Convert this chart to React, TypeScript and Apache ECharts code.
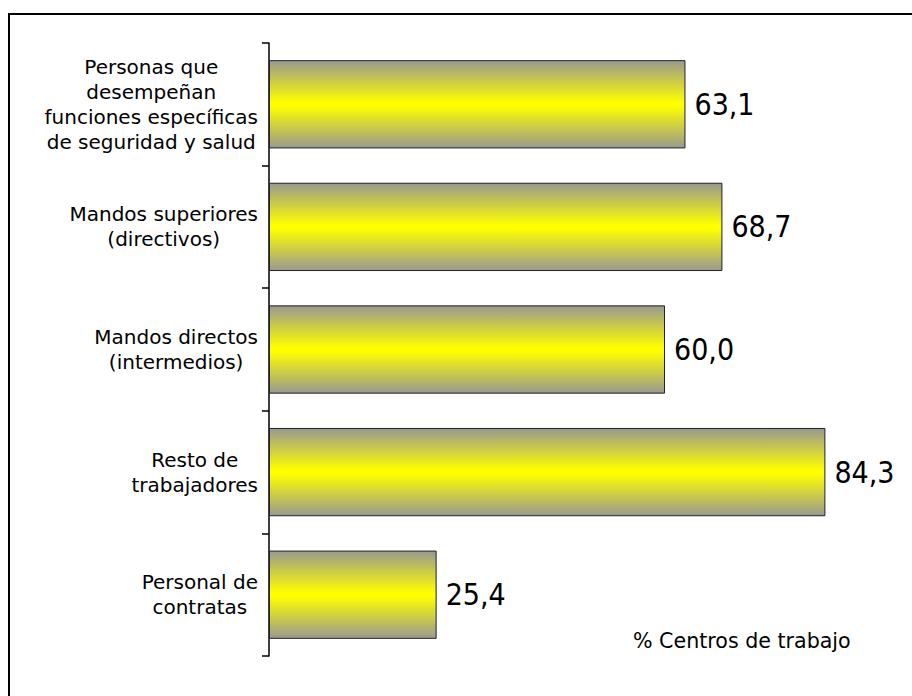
import React, { useEffect, useRef } from "react";
import * as echarts from "echarts";

const categories: string[] = [
  "Personas que\ndesempeñan\nfunciones específicas\nde seguridad y salud",
  "Mandos superiores\n(directivos)",
  "Mandos directos\n(intermedios)",
  "Resto de\ntrabajadores",
  "Personal de\ncontratas",
];
const values: number[] = [63.1, 68.7, 60.0, 84.3, 25.4];
const unitNote = "% Centros de trabajo";

export default function App() {
  const ref = useRef<HTMLDivElement>(null);
  useEffect(() => {
    if (!ref.current) return;
    const chart = echarts.init(ref.current, null, { renderer: "svg" });
    const font = "'DejaVu Sans', Verdana, sans-serif";
    chart.setOption({
      animation: false,
      backgroundColor: "#ffffff",
      grid: { left: 269, top: 43, width: 594, height: 613, containLabel: false },
      xAxis: {
        type: "value",
        min: 0,
        max: 90,
        show: false,
      },
      yAxis: {
        type: "category",
        data: categories,
        inverse: true,
        axisLine: { show: true, lineStyle: { color: "#000", width: 1.5 } },
        axisTick: { show: true, length: 7, lineStyle: { color: "#000", width: 1.5 } },
        axisLabel: {
          margin: 11,
          align: "right",
          formatter: (v: string) =>
            v
              .split("\n")
              .map((l) => `{c|${l}}`)
              .join("\n"),
          rich: {
            c: {
              align: "center",
              fontSize: 20,
              lineHeight: 25,
              fontFamily: font,
              color: "#000",
            },
          },
        },
        splitLine: { show: false },
      },
      series: [
        {
          type: "bar",
          data: values,
          barCategoryGap: "28%",
          itemStyle: {
            borderColor: "#222",
            borderWidth: 1,
            color: new echarts.graphic.LinearGradient(0, 0, 0, 1, [
              { offset: 0, color: "#999990" },
              { offset: 0.48, color: "#ffff00" },
              { offset: 0.52, color: "#ffff00" },
              { offset: 1, color: "#999990" },
            ]),
          },
          label: {
            show: true,
            position: "right",
            distance: 9,
            fontSize: 30,
            fontFamily: "'DejaVu Sans Condensed', 'DejaVu Sans', sans-serif",
            color: "#000",
            formatter: (p: any) => p.value.toFixed(1).replace(".", ","),
          },
        },
      ],
      graphic: [
        {
          type: "line",
          shape: { x1: 8, y1: 14, x2: 912, y2: 14 },
          style: { stroke: "#000", lineWidth: 2 },
        },
        {
          type: "line",
          shape: { x1: 9, y1: 13, x2: 9, y2: 696 },
          style: { stroke: "#000", lineWidth: 2 },
        },
        {
          type: "text",
          x: 633,
          y: 641,
          style: {
            text: unitNote,
            fontSize: 20.6,
            fontFamily: font,
            fill: "#000",
            verticalAlign: "middle",
            align: "left",
          },
        },
      ],
    });
    return () => chart.dispose();
  }, []);
  return (
    <div
      ref={ref}
      style={{ position: "absolute", left: 0, top: 0, width: 912, height: 696 }}
    />
  );
}
